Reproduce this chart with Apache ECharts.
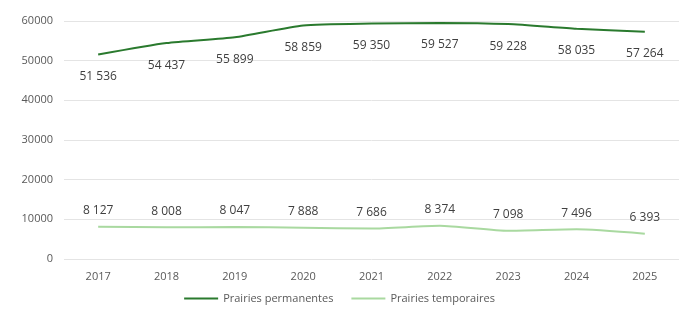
<!DOCTYPE html>
<html>
<head>
<meta charset="utf-8">
<script src="https://cdn.jsdelivr.net/npm/echarts@6/dist/echarts.min.js"></script>
<style>
	html, body { margin: 0; padding: 0; background: #fff; }
	#main { width: 679px; height: 313px; }
</style>
</head>
<body>
<div id="main"></div>
<script>
	var years = ['2017', '2018', '2019', '2020', '2021', '2022', '2023', '2024', '2025']
	var permanentes = [51536, 54437, 55899, 58859, 59350, 59527, 59228, 58035, 57264]
	var temporaires = [8127, 8008, 8047, 7888, 7686, 8374, 7098, 7496, 6393]
	var yTicks = [0, 10000, 20000, 30000, 40000, 50000, 60000]

	// nombre avec espace comme séparateur de milliers
	function fmt(v) {
		return String(v).replace(/\B(?=(\d{3})+(?!\d))/g, ' ')
	}

	var font = 'Open Sans'
	var myChart = echarts.init(document.getElementById('main'))
	var option = {
		animation: false,
		textStyle: { fontFamily: font },
		grid: { left: 64, right: 0, top: 21, bottom: 54 },
		legend: {
			bottom: 4,
			left: 'center',
			icon: 'rect',
			itemWidth: 34,
			itemHeight: 2,
			itemGap: 18,
			textStyle: { color: '#595959', fontSize: 11, fontFamily: font },
			data: ['Prairies permanentes', 'Prairies temporaires']
		},
		xAxis: {
			type: 'category',
			data: years,
			axisLine: { show: false },
			axisTick: { show: false },
			axisLabel: { color: '#595959', fontSize: 11, margin: 12 }
		},
		yAxis: {
			type: 'value',
			min: yTicks[0],
			max: yTicks[yTicks.length - 1],
			interval: 10000,
			axisLine: { show: false },
			axisTick: { show: false },
			axisLabel: { color: '#595959', fontSize: 11, margin: 11, formatter: function (v) { return String(v) } },
			splitLine: { lineStyle: { color: '#e4e4e4', width: 1 } }
		},
		series: [
			{
				name: 'Prairies permanentes',
				type: 'line',
				smooth: 0.2,
				symbol: 'circle',
				symbolSize: 0.1,
				showSymbol: true,
				data: permanentes,
				itemStyle: { color: '#2a7a2e' },
				lineStyle: { color: '#2a7a2e', width: 2 },
				label: {
					show: true,
					position: 'bottom',
					distance: 16,
					color: '#404040',
					fontSize: 12,
					formatter: function (p) { return fmt(p.value) }
				}
			},
			{
				name: 'Prairies temporaires',
				type: 'line',
				smooth: 0.2,
				symbol: 'circle',
				symbolSize: 0.1,
				showSymbol: true,
				data: temporaires,
				itemStyle: { color: '#a9d9a0' },
				lineStyle: { color: '#a9d9a0', width: 2 },
				label: {
					show: true,
					position: 'top',
					distance: 10,
					color: '#404040',
					fontSize: 12,
					formatter: function (p) { return fmt(p.value) }
				}
			}
		]
	}
	myChart.setOption(option)
</script>
</body>
</html>
